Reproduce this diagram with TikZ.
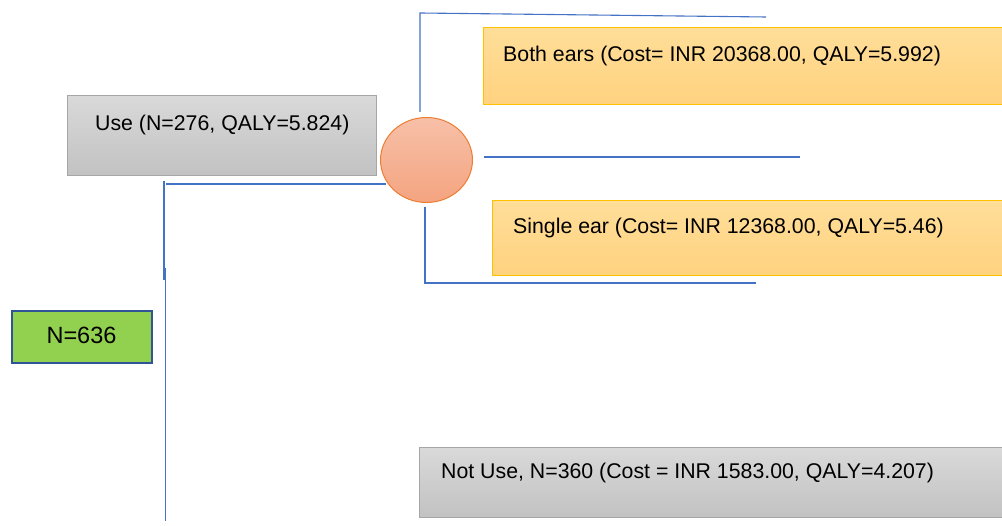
\documentclass[tikz,border=0pt]{standalone}
\usepackage{fontspec}
\setmainfont{Liberation Sans}
\usetikzlibrary{shapes.geometric}
\definecolor{linkblue}{HTML}{4472C4}
\definecolor{grayedge}{HTML}{A6A6A6}
\definecolor{graytop}{HTML}{D9D9D9}
\definecolor{graybot}{HTML}{C2C2C2}
\definecolor{goldedge}{HTML}{FFC000}
\definecolor{goldtop}{HTML}{FFDE99}
\definecolor{goldbot}{HTML}{FFD27F}
\definecolor{chanceedge}{HTML}{ED7D31}
\definecolor{chancetop}{HTML}{F7C0A8}
\definecolor{chancebot}{HTML}{F4A480}
\definecolor{rootfill}{HTML}{92D050}
\definecolor{rootedge}{HTML}{2F5597}
\tikzset{
  graybox/.style={rectangle, draw=grayedge, line width=1pt, top color=graytop, bottom color=graybot, inner sep=0pt, anchor=north west},
  goldbox/.style={rectangle, draw=goldedge, line width=1pt, top color=goldtop, bottom color=goldbot, inner sep=0pt, anchor=north west},
  rootbox/.style={rectangle, draw=rootedge, line width=2pt, fill=rootfill, inner sep=0pt, anchor=north west},
  chance/.style={ellipse, draw=chanceedge, line width=1pt, top color=chancetop, bottom color=chancebot, inner sep=0pt},
  lbl/.style={inner sep=0pt, font=\fontsize{21.3}{25}\selectfont, anchor=base west},
  link/.style={draw=linkblue, line width=1.1pt}
}
\begin{document}
\begin{tikzpicture}[x=1pt,y=-1pt]
\useasboundingbox (0,0) rectangle (1002,526);
\clip (0,0) rectangle (1002,526);

% boxes of the tree
\node[graybox, minimum width=309pt, minimum height=80pt] (use) at (67,95) {};
\node[chance, minimum width=92pt, minimum height=85pt] (chn) at (426.5,160) {};
\node[goldbox, minimum width=540pt, minimum height=77pt] (both) at (483,27) {};
\node[goldbox, minimum width=530pt, minimum height=75pt] (single) at (492,200) {};
\node[rootbox, minimum width=140pt, minimum height=52pt] (root) at (11,310) {};
\node[graybox, minimum width=600pt, minimum height=70pt] (notuse) at (419,447) {};

% labels
\node[lbl] (use-t) at (95,131) {Use (N=276, QALY=5.824)};
\node[lbl] (both-t) at (503,62) {Both ears (Cost= INR 20368.00, QALY=5.992)};
\node[lbl] (single-t) at (513,234) {Single ear (Cost= INR 12368.00, QALY=5.46)};
\node[lbl, anchor=base, font=\fontsize{23.5}{27}\selectfont] (root-t) at (81.5,344) {N=636};
\node[lbl] (notuse-t) at (441,479) {Not Use, N=360 (Cost = INR 1583.00, QALY=4.207)};

% branch lines
\coordinate (a1) at (164,181);
\coordinate (a2) at (164,280);
\coordinate (b1) at (165.5,268);
\coordinate (b2) at (165.5,521);
\coordinate (c1) at (166,184);
\coordinate (c2) at (chn.west |- c1);
\coordinate (d1) at (420,13);
\coordinate (d2) at (420,112);
\coordinate (d3) at (766,17);
\coordinate (e1) at (484,157);
\coordinate (e2) at (800,157);
\coordinate (f1) at (425,207);
\coordinate (f2) at (425,283);
\coordinate (f3) at (756,283);

\draw[link] (a1) -- (a2);
\draw[link] (b1) -- (b2);
\draw[link] (c1) -- ([xshift=6pt]c2);
\draw[link] (d2) -- (d1) -- (d3);
\draw[link] (e1) -- (e2);
\draw[link] (f1) -- (f2) -- (f3);
\end{tikzpicture}
\end{document}
